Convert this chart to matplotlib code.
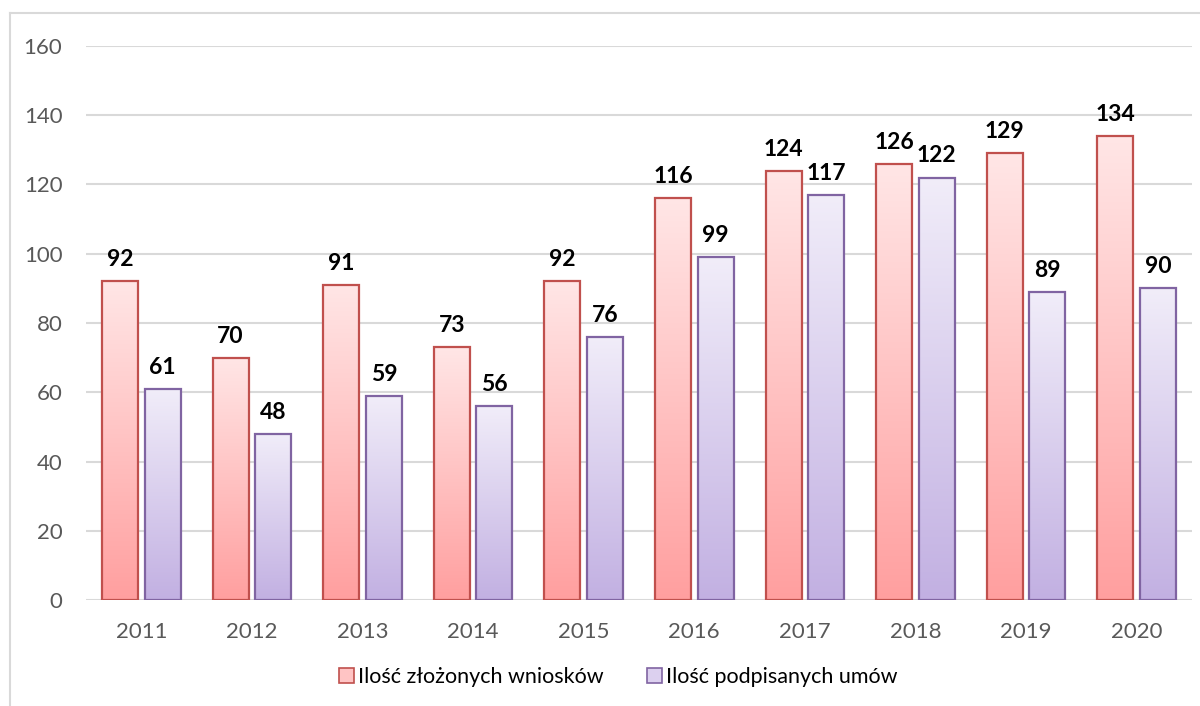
import matplotlib
matplotlib.use("Agg")
import matplotlib.pyplot as plt
import numpy as np
from matplotlib.colors import LinearSegmentedColormap
from matplotlib.patches import Patch
from matplotlib.lines import Line2D

plt.rcParams["font.family"] = ["Lato", "DejaVu Sans"]

years = ["2011", "2012", "2013", "2014", "2015", "2016", "2017", "2018", "2019", "2020"]
wnioski = [92, 70, 91, 73, 92, 116, 124, 126, 129, 134]
umowy = [61, 48, 59, 56, 76, 99, 117, 122, 89, 90]
series_names = ["Ilość złożonych wniosków", "Ilość podpisanych umów"]

styles = [
    {"top": "#FFE6E6", "bottom": "#FF9F9F", "edge": "#C0504D", "mid": "#FFC4C4"},
    {"top": "#F1EDF9", "bottom": "#C2B0E2", "edge": "#8064A2", "mid": "#DCD0EF"},
]

fig = plt.figure(figsize=(12, 7.06), dpi=100)
ax = fig.add_axes([86 / 1200, 1 - 600 / 706, (1192 - 86) / 1200, (600 - 46) / 706])

# chart frame (left and top edges visible)
fig.add_artist(Line2D([10 / 1200, 10 / 1200], [0, 1 - 13 / 706], color="#D9D9D9", lw=1.5))
fig.add_artist(Line2D([10 / 1200, 1], [1 - 13 / 706, 1 - 13 / 706], color="#D9D9D9", lw=1.5))

x = np.arange(len(years))
width = 0.325
offsets = [-0.193, 0.193]
grad = np.linspace(1, 0, 256).reshape(-1, 1)

for vals, off, st in zip([wnioski, umowy], offsets, styles):
    cmap = LinearSegmentedColormap.from_list("g", [st["bottom"], st["top"]])
    bars = ax.bar(x + off, vals, width, facecolor="none", edgecolor=st["edge"],
                  linewidth=1.6, zorder=3)
    for b, v in zip(bars, vals):
        x0 = b.get_x()
        im = ax.imshow(grad, cmap=cmap, aspect="auto", origin="upper",
                       extent=[x0, x0 + b.get_width(), 0, v], zorder=2)
        im.set_clip_path(b)
        ax.annotate(str(v), (b.get_x() + b.get_width() / 2, v), xytext=(0, 8),
                    textcoords="offset points", ha="center", va="bottom",
                    fontsize=16.5, fontweight="bold", color="black")

ax.set_xlim(-0.5, len(years) - 0.5)
ax.set_ylim(0, 160)
ax.set_yticks(range(0, 161, 20))
ax.set_xticks(x)
ax.set_xticklabels(years)
ax.yaxis.grid(True, color="#D9D9D9", linewidth=1.5, zorder=0)
ax.set_axisbelow(True)
for s in ax.spines.values():
    s.set_visible(False)
ax.tick_params(axis="both", length=0, labelsize=16, labelcolor="#595959")
ax.tick_params(axis="y", pad=17)
ax.tick_params(axis="x", pad=16)

handles = [Patch(facecolor=st["mid"], edgecolor=st["edge"], linewidth=1.2, label=n)
           for st, n in zip(styles, series_names)]
fig.legend(handles=handles, loc="center", bbox_to_anchor=(618 / 1200, 1 - 677 / 706), ncol=2,
           frameon=False, fontsize=15.5, handlelength=0.7, handleheight=0.7,
           handletextpad=0.2, columnspacing=2.0)

fig.savefig("out.png", dpi=100)
